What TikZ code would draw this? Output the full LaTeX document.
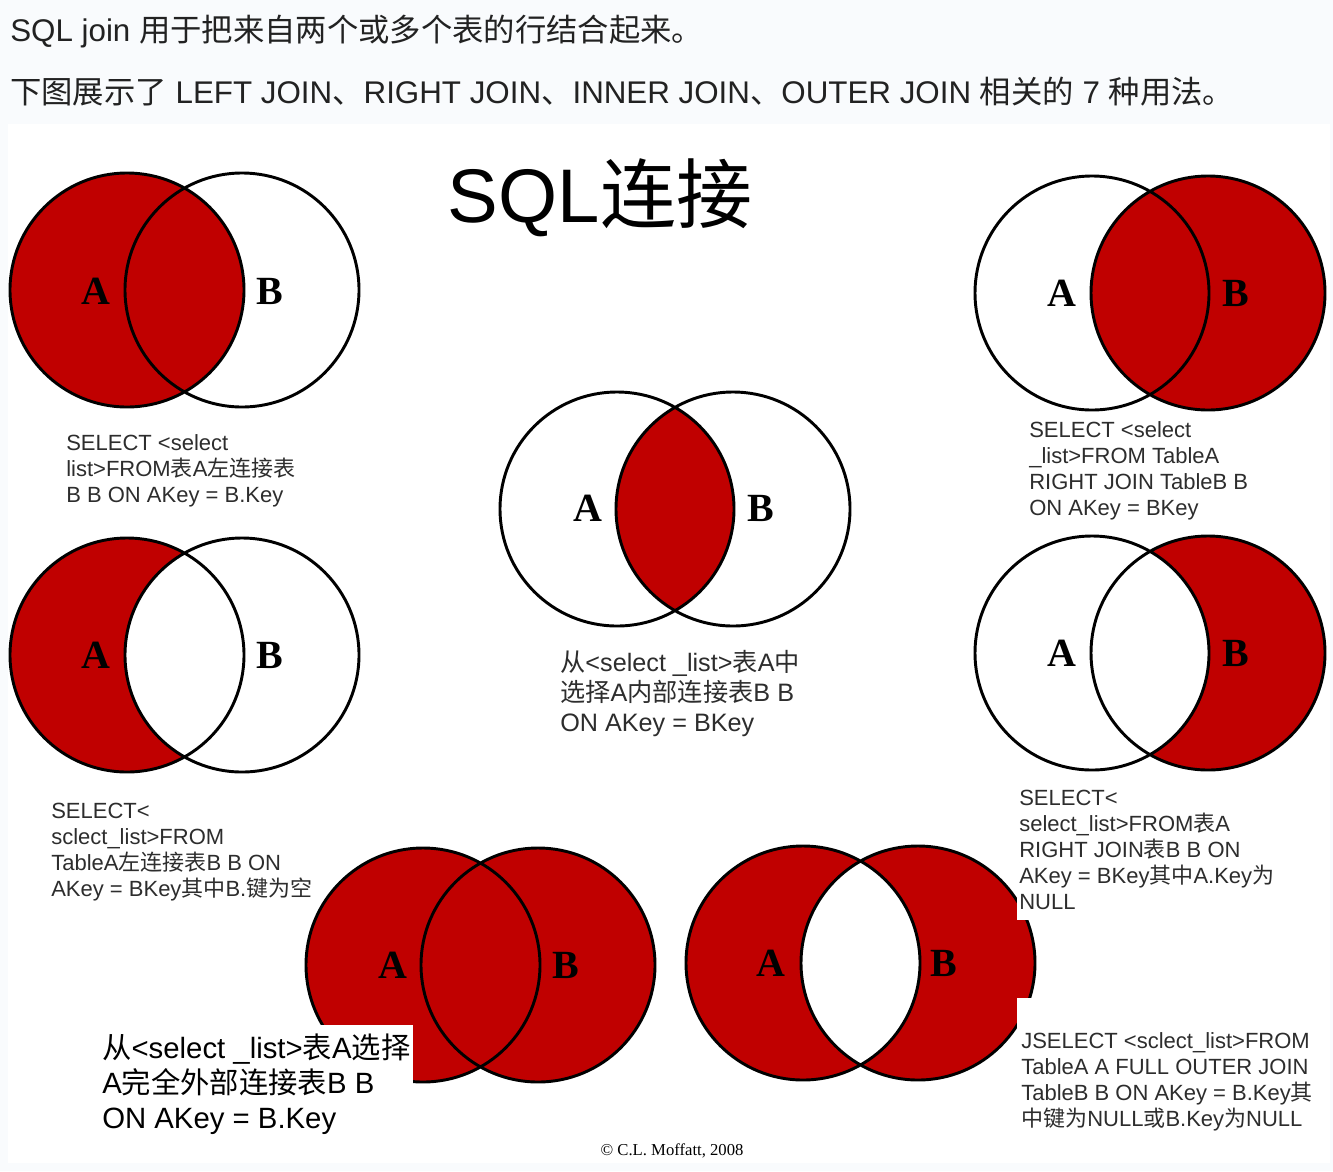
\documentclass[tikz,border=0pt]{standalone}
\usepackage{fontspec}
\usepackage{tikz}
\setmainfont{Liberation Sans}
\newfontfamily\zhfont{Noto Sans CJK SC}
\newfontfamily\labelserif{Liberation Serif}
\newcommand{\zh}[1]{{\zhfont #1}}
\definecolor{joinred}{RGB}{192,0,0}
\definecolor{pagebg}{RGB}{249,251,253}
\definecolor{captiongray}{RGB}{45,45,45}
\definecolor{headgray}{RGB}{34,34,34}
\tikzset{
  vennring/.style={draw=black,line width=2.2pt},
  vennfill/.style={fill=joinred},
  vennlabel/.style={font=\labelserif\bfseries\fontsize{30}{30}\selectfont},
  joincode/.style={anchor=north west,align=left,inner sep=0pt,text=captiongray,
    font=\fontsize{16.5}{19.5}\selectfont},
  headline/.style={anchor=base west,inner sep=0pt,text=headgray,
    font=\fontsize{23.5}{28}\selectfont}
}
\def\R{87.75pt}

\begin{document}
\begin{tikzpicture}[x=0.75pt,y=-0.75pt]
  \useasboundingbox (0,0) rectangle (1333,1171);
  \fill[pagebg] (0,0) rectangle (1333,1171);
  \fill[white] (8,124) rectangle (1330,1163);
  \node[headline] (intro) at (10,41) {SQL join \zh{用于把来自两个或多个表的行结合起来。}};
  \node[headline] (usage) at (10,103) {\zh{下图展示了} LEFT JOIN\zh{、}RIGHT JOIN\zh{、}INNER JOIN\zh{、}OUTER JOIN \zh{相关的} 7 \zh{种用法。}};
  \node[anchor=base,inner sep=0pt,font=\fontsize{57}{60}\selectfont] (title) at (600,222) {SQL\zh{连接}};
  % circle centres
  \coordinate (tlA) at (127,290);  \coordinate (tlB) at (242,290);
  \coordinate (trA) at (1092,293); \coordinate (trB) at (1208,293);
  \coordinate (inA) at (617,509);  \coordinate (inB) at (733,509);
  \coordinate (mlA) at (127,655);  \coordinate (mlB) at (242,655);
  \coordinate (mrA) at (1092,653); \coordinate (mrB) at (1208,653);
  \coordinate (blA) at (423,965);  \coordinate (blB) at (538,965);
  \coordinate (brA) at (803,963);  \coordinate (brB) at (918,963);
  % left join
  \fill[vennfill] (tlA) circle[radius=\R];
  % right join
  \fill[vennfill] (trB) circle[radius=\R];
  % inner join
  \begin{scope}
    \clip (inA) circle[radius=\R];
    \fill[vennfill] (inB) circle[radius=\R];
  \end{scope}
  % left join, B key null
  \fill[vennfill] (mlA) circle[radius=\R];
  \fill[white] (mlB) circle[radius=\R];
  % right join, A key null
  \fill[vennfill] (mrB) circle[radius=\R];
  \fill[white] (mrA) circle[radius=\R];
  % full outer join
  \fill[vennfill] (blA) circle[radius=\R] (blB) circle[radius=\R];
  % full outer join, either key null
  \fill[vennfill,even odd rule] (brA) circle[radius=\R] (brB) circle[radius=\R];
  \foreach \v in {tl,tr,in,ml,mr,bl,br}{
    \draw[vennring] (\v A) circle[radius=\R] (\v B) circle[radius=\R];
  }
  \node[vennlabel] (tlAl) at (96,291) {A};   \node[vennlabel] (tlBl) at (270,291) {B};
  \node[vennlabel] (trAl) at (1062,293) {A}; \node[vennlabel] (trBl) at (1236,293) {B};
  \node[vennlabel] (inAl) at (588,508) {A};  \node[vennlabel] (inBl) at (761,508) {B};
  \node[vennlabel] (mlAl) at (96,655) {A};   \node[vennlabel] (mlBl) at (270,655) {B};
  \node[vennlabel] (mrAl) at (1062,653) {A}; \node[vennlabel] (mrBl) at (1236,653) {B};
  \node[vennlabel] (blAl) at (393,965) {A};  \node[vennlabel] (blBl) at (566,965) {B};
  \node[vennlabel] (brAl) at (771,963) {A};  \node[vennlabel] (brBl) at (944,963) {B};
  % captions, some on white boxes over the rings
  \fill[white] (1017,782) rectangle (1330,920);
  \fill[white] (1017,998) rectangle (1330,1160);
  \fill[white] (95,1025) rectangle (413,1140);
  \node[joincode] (tlcode) at (66,434) {SELECT <select\\list>FROM\zh{表}A\zh{左连接表}\\B B ON AKey = B.Key};
  \node[joincode] (trcode) at (1029,421) {SELECT <select\\\_list>FROM TableA\\RIGHT JOIN TableB B\\ON AKey = BKey};
  \node[joincode] (mlcode) at (51,803) {SELECT<\\sclect\_list>FROM\\TableA\zh{左连接表}B B ON\\AKey = BKey\zh{其中}B.\zh{键为空}};
  \node[joincode] (mrcode) at (1019,790) {SELECT<\\select\_list>FROM\zh{表}A\\RIGHT JOIN\zh{表}B B ON\\AKey = BKey\zh{其中}A.Key\zh{为}\\NULL};
  \node[joincode,font=\fontsize{18.9}{22.5}\selectfont] (incode) at (560,650) {\zh{从}<select \_list>\zh{表}A\zh{中}\\\zh{选择}A\zh{内部连接表}B B\\ON AKey = BKey};
  \node[joincode,text=black,font=\fontsize{22}{26.25}\selectfont] (blcode) at (102,1034) {\zh{从}<select \_list>\zh{表}A\zh{选择}\\A\zh{完全外部连接表}B B\\ON AKey = B.Key};
  \node[joincode] (brcode) at (1021,1032) {JSELECT <sclect\_list>FROM\\TableA A FULL OUTER JOIN\\TableB B ON AKey = B.Key\zh{其}\\\zh{中键为}NULL\zh{或}B.Key\zh{为}NULL};
  \node[font=\labelserif\fontsize{12.5}{14}\selectfont,inner sep=0pt] (credit) at (672,1151) {\textcopyright{} C.L. Moffatt, 2008};
\end{tikzpicture}
\end{document}
